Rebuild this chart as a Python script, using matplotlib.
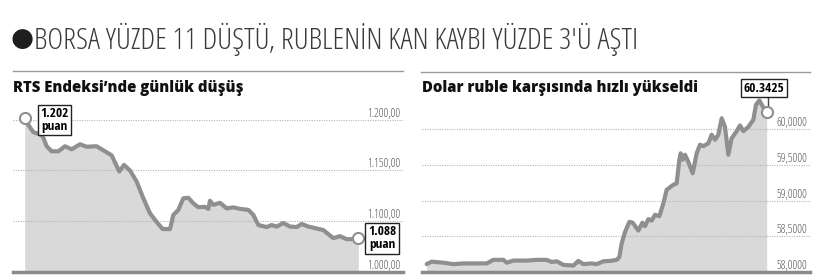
import matplotlib
matplotlib.use("Agg")
import matplotlib.pyplot as plt
from matplotlib.lines import Line2D
import matplotlib.transforms as mtransforms

W, H = 820, 279

# RTS index (left panel)
rts_x = [74, 85, 100, 118, 128, 140, 155, 175, 195, 215, 240, 260, 290, 310, 335,
         358, 372, 390, 410, 430, 450, 470, 488, 510, 520, 535, 550, 565, 580, 595,
         615, 625, 630, 640, 660, 680, 700, 720, 745, 760, 775, 800, 815, 830, 850,
         870, 890, 905, 925, 970, 1000, 1020, 1040, 1060, 1075]
rts_val = [1202, 1195, 1188, 1186, 1184, 1174, 1169, 1169, 1174, 1171, 1176, 1173.5, 1174, 1170, 1165,
           1149, 1155.5, 1150, 1139, 1122.5, 1107.6, 1099, 1092, 1092, 1106, 1111, 1122.5, 1123, 1117.5, 1113.6,
           1114, 1112, 1120, 1116, 1118, 1112.5, 1113.5, 1112, 1111, 1106, 1096, 1094, 1096, 1094.5, 1098,
           1094.5, 1094, 1097, 1094.5, 1091, 1083, 1085, 1082, 1082, 1083]
rts_ticks = [1200, 1150, 1100, 1049.5]
rts_ticklabels = ["1.200,00", "1.150,00", "1.100,00", "1.000,00"]

# USD/RUB (right panel)
usd_x = [50, 65, 100, 130, 160, 200, 230, 250, 280, 290, 310, 350, 380, 410, 425,
         440, 460, 490, 505, 520, 545, 560, 580, 600, 620, 628, 635, 645, 658, 668,
         685, 697, 705, 715, 725, 735, 748, 760, 770, 790, 800, 808, 812, 818, 825,
         835, 848, 860, 870, 880, 895, 905, 915, 925, 935, 945, 955, 965, 980, 990,
         1000, 1015, 1030, 1038, 1048, 1060, 1070]
usd_val = [58.11, 58.145, 58.13, 58.11, 58.12, 58.12, 58.12, 58.17, 58.17, 58.13, 58.16, 58.16, 58.17, 58.17, 58.14,
           58.15, 58.10, 58.09, 58.155, 58.11, 58.12, 58.11, 58.15, 58.155, 58.17, 58.21, 58.40, 58.56, 58.70, 58.69,
           58.58, 58.69, 58.64, 58.74, 58.72, 58.80, 58.78, 58.96, 59.15, 59.22, 59.24, 59.57, 59.66, 59.57, 59.64,
           59.54, 59.38, 59.66, 59.78, 59.76, 59.80, 59.92, 59.85, 59.92, 60.15, 60.03, 59.64, 59.87, 59.97, 60.05,
           59.97, 60.03, 60.13, 60.34, 60.40, 60.30, 60.24]
usd_ticks = [60.0, 59.5, 59.0, 58.5, 58.0]
usd_ticklabels = ["60,0000", "59,5000", "59,0000", "58,5000", "58,0000"]

title = "BORSA YÜZDE 11 DÜŞTÜ, RUBLENİN KAN KAYBI YÜZDE 3'Ü AŞTI"
left_title = "RTS Endeksi’nde günlük düşüş"
right_title = "Dolar ruble karşısında hızlı yükseldi"

LINE = "#8f8f8f"
FILL = "#d9d9d9"
GRID = "#b5b5b5"
TICK = "#555555"
LIGHT = dict(family=["Open Sans", "DejaVu Sans"], fontstretch="condensed", fontweight=300)
BOXFONT = dict(family=["Open Sans Condensed", "DejaVu Sans"], fontweight="bold")
HEAD = dict(family=["Open Sans", "DejaVu Sans"], fontweight=800)


def fx(px):
    return px / W


def fy(py):
    return 1 - py / H


fig = plt.figure(figsize=(W / 100, H / 100), dpi=100)
fig.patch.set_facecolor("white")

# headline
fig.text(fx(22.5), fy(39), "\u25cf", fontsize=19, color="#1e1e1e", va="center", ha="center",
         family="DejaVu Sans")
fig.text(fx(34), fy(39), title, fontsize=21.8, color="#3a3a3a", va="center", ha="left", **LIGHT)

# rules under headline
fig.add_artist(Line2D([fx(13), fx(403)], [fy(71), fy(71)], color="#9a9a9a", lw=1))
fig.add_artist(Line2D([fx(421), fx(810)], [fy(72), fy(72)], color="#9a9a9a", lw=1))

fig.text(fx(13), fy(88), left_title, fontsize=10.7, color="#111111",
         va="center", ha="left", **HEAD)
fig.text(fx(422), fy(88), right_title, fontsize=10.7, color="#111111",
         va="center", ha="left", **HEAD)


def panel(left_px, right_px, xlim, ylim, xs, ys, ticks, labels):
    ax = fig.add_axes([fx(left_px), fy(272), (right_px - left_px) / W, (272 - 80) / H])
    ax.set_xlim(*xlim)
    ax.set_ylim(*ylim)
    ax.axis("off")
    ax.fill_between(xs, ys, ylim[0], color=FILL, lw=0, zorder=1)
    ax.plot(xs, ys, color=LINE, lw=3, solid_joinstyle="round", solid_capstyle="round", zorder=3)
    trans = mtransforms.blended_transform_factory(ax.transAxes, ax.transData)
    for t, lab in zip(ticks, labels):
        if t > ylim[0]:
            ax.axhline(t, color=GRID, lw=0.8, ls=(0, (1, 1.2)), zorder=2)
        ax.text(0.993, t, lab, transform=trans, ha="right", va="bottom", fontsize=8.5,
                color=TICK, zorder=4, **LIGHT)
    ax.plot([0, 1], [0, 0], transform=ax.transAxes, color="#8a8a8a", lw=2.5,
            clip_on=False, zorder=5)
    return ax


# left panel: data x = px * 3
axl = panel(13, 403, (39, 1209), (1049.5, 1239.6), rts_x, rts_val, rts_ticks, rts_ticklabels)
axl.plot(rts_x[0], rts_val[0], "o", ms=8, mfc="white", mec=LINE, mew=1.5, zorder=6, clip_on=False)
axl.plot(rts_x[-1], rts_val[-1], "o", ms=8, mfc="white", mec=LINE, mew=1.5, zorder=6, clip_on=False)
box = dict(boxstyle="square,pad=0.2", fc="white", ec="#222222", lw=1)
axl.annotate("1.202\npuan", xy=(rts_x[0], rts_val[0]), xytext=(163, 1200),
             ha="center", va="center", fontsize=9.5, linespacing=0.95, bbox=box,
             zorder=7, **BOXFONT)
axl.annotate("1.088\npuan", xy=(rts_x[-1], rts_val[-1]), xytext=(1146, 1083),
             ha="center", va="center", fontsize=9.5, linespacing=0.95, bbox=box,
             zorder=7, **BOXFONT)

# right panel: data x = (px - 410) * 3
y0 = 58.0
y1 = 58.0 + 192 * 2 / 143
axr = panel(421.7, 810, (35, 1200), (y0, y1), usd_x, usd_val, usd_ticks, usd_ticklabels)
axr.plot(usd_x[-1], usd_val[-1], "o", ms=8, mfc="white", mec=LINE, mew=1.5, zorder=6)
axr.plot([1075, 1075], [usd_val[-1] + 0.04, 60.52], color="#444444", lw=1, zorder=5)
axr.text(1062, 60.57, "60.3425", ha="center", va="center", fontsize=9.5, bbox=box,
         zorder=7, **BOXFONT)

fig.savefig("out.png", dpi=100, facecolor="white")
